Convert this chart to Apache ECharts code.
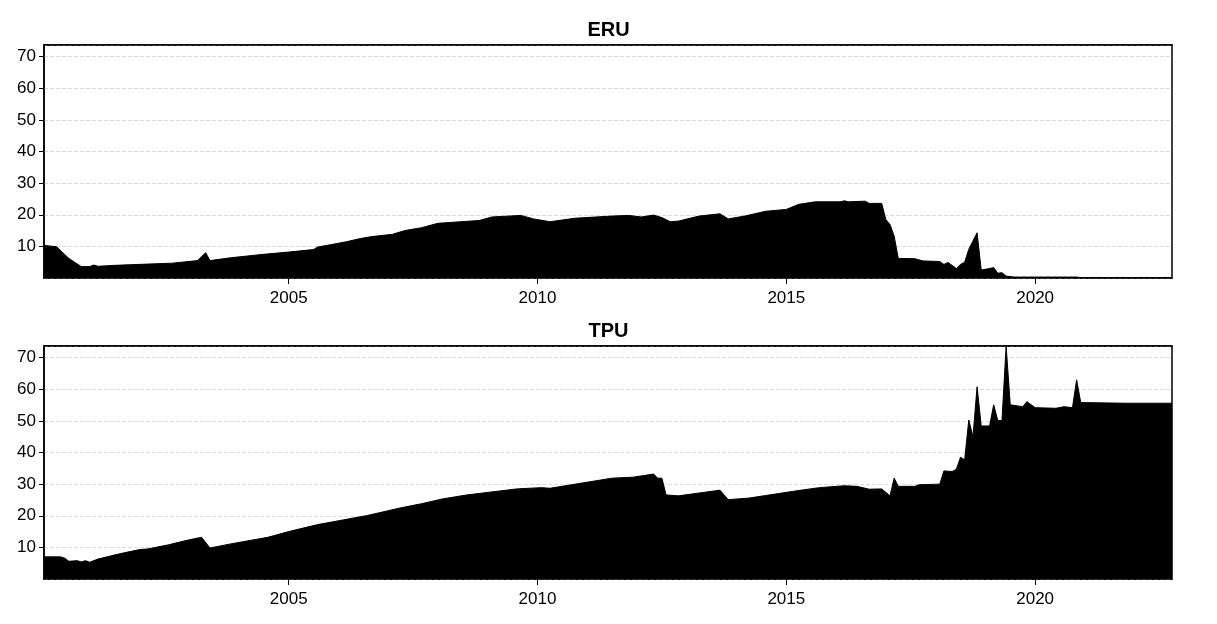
<!DOCTYPE html>
<html>
<head>
<meta charset="utf-8">
<script src="https://cdn.jsdelivr.net/npm/echarts@6/dist/echarts.min.js"></script>
<style>
  html, body {margin: 0; padding: 0; background: #fff;}
  #main {width: 1217px; height: 624px;}
</style>
</head>
<body>
<div id="main"></div>
<script>
// monthly readings, 'YYYY-MM'
var eruDates = ['2000-02','2000-05','2000-08','2000-11','2001-01','2001-02','2001-03','2001-07','2002-03','2002-09',
  '2003-03','2003-05','2003-06','2003-11','2004-07','2005-01','2005-07','2005-08','2005-11','2006-03',
  '2006-06','2006-09','2007-02','2007-05','2007-09','2008-01','2008-11','2009-02','2009-09','2009-12',
  '2010-04','2010-10','2011-07','2011-11','2012-02','2012-05','2012-07','2012-09','2012-11','2013-04',
  '2013-09','2013-11','2014-03','2014-08','2015-01','2015-04','2015-08','2016-02','2016-03','2016-04',
  '2016-08','2016-09','2016-12','2017-01','2017-02','2017-03','2017-04','2017-08','2017-10','2018-02',
  '2018-03','2018-04','2018-06','2018-07','2018-08','2018-09','2018-11','2018-12','2019-02','2019-03',
  '2019-04','2019-05','2019-06','2019-08','2020-11','2020-12','2022-10'];
var eruValues = [10.3, 9.9, 6.2, 3.6, 3.6, 4.1, 3.7, 4.0, 4.4, 4.7,
  5.5, 8.0, 5.5, 6.4, 7.5, 8.2, 9.0, 9.8, 10.5, 11.5,
  12.4, 13.1, 13.8, 15.0, 15.9, 17.3, 18.2, 19.3, 19.8, 18.7,
  17.8, 18.9, 19.6, 19.8, 19.3, 19.9, 19.1, 17.8, 18.0, 19.6,
  20.3, 18.7, 19.6, 21.1, 21.7, 23.3, 24.1, 24.1, 24.4, 24.1,
  24.3, 23.6, 23.6, 18.5, 16.9, 13.3, 6.2, 6.1, 5.4, 5.2,
  4.3, 4.9, 3.0, 4.3, 5.0, 9.1, 14.3, 2.5, 3.0, 3.3,
  1.5, 1.7, 0.6, 0.3, 0.3, 0.1, 0.1];

var tpuDates = ['2000-02','2000-06','2000-07','2000-08','2000-10','2000-11','2000-12','2001-01','2001-03','2001-08',
  '2002-01','2002-03','2002-08','2002-12','2003-04','2003-06','2003-11','2004-08','2005-01','2005-08',
  '2006-08','2007-04','2007-09','2008-02','2008-08','2009-08','2010-02','2010-04','2011-07','2011-12',
  '2012-05','2012-06','2012-07','2012-08','2012-11','2013-09','2013-11','2014-04','2014-08','2015-04',
  '2015-09','2016-03','2016-06','2016-09','2016-12','2017-02','2017-03','2017-04','2017-08','2017-09',
  '2018-02','2018-03','2018-05','2018-06','2018-07','2018-08','2018-09','2018-10','2018-11','2018-12',
  '2019-02','2019-03','2019-04','2019-05','2019-06','2019-07','2019-10','2019-11','2020-01','2020-06',
  '2020-08','2020-10','2020-11','2020-12','2021-11','2022-10'];
var tpuValues = [7.0, 7.0, 6.6, 5.6, 5.8, 5.4, 5.8, 5.3, 6.3, 7.9,
  9.3, 9.5, 10.8, 12.1, 13.2, 9.8, 11.1, 13.2, 15.0, 17.2,
  20.1, 22.5, 23.8, 25.3, 26.6, 28.5, 28.9, 28.7, 31.9, 32.2,
  33.2, 31.9, 31.9, 26.6, 26.3, 28.1, 25.1, 25.6, 26.4, 28.0,
  28.9, 29.5, 29.3, 28.4, 28.5, 26.3, 31.9, 29.3, 29.3, 29.8,
  30.0, 34.2, 34.0, 34.7, 38.5, 37.7, 50.3, 45.0, 60.8, 48.4,
  48.4, 55.1, 50.1, 50.1, 73.7, 55.1, 54.5, 56.1, 54.2, 54.0,
  54.5, 54.2, 63.0, 55.8, 55.6, 55.6];

var yearTicks = ['2005', '2010', '2015', '2020'];
var yTicks = [10, 20, 30, 40, 50, 60, 70];
var panelTitles = ['ERU', 'TPU'];

// one category per month, first to last reading
var months = [];
for (var yr = 2000; yr <= 2022; yr++) {
  for (var mo = 1; mo <= 12; mo++) {
    var key = yr + '-' + (mo < 10 ? '0' : '') + mo;
    if (key >= '2000-02' && key <= '2022-10') months.push(key);
  }
}
function isYearTick(index, value) {
  return String(value).slice(5) === '01' && yearTicks.indexOf(String(value).slice(0, 4)) >= 0;
}
function pairs(dates, vals) {
  return dates.map(function (d, i) { return [d, vals[i]]; });
}

var yMax = 73.7;
var font = 'Liberation Sans, Arial, sans-serif';
var seriesData = [pairs(eruDates, eruValues), pairs(tpuDates, tpuValues)];

function buildOption() {
  var grids = [], xAxes = [], yAxes = [], titles = [], series = [];
  for (var i = 0; i < 2; i++) {
    var gridTop = 45 + i * 301;
    grids.push({left: 44, right: 45, top: gridTop, height: 233, show: true,
      borderColor: '#000', borderWidth: 1.5});
    titles.push({text: panelTitles[i], left: 'center', top: gridTop - 25, padding: 0,
      textStyle: {fontFamily: font, fontSize: 20, fontWeight: 'bold', color: '#000'}});
    xAxes.push({type: 'category', gridIndex: i, data: months, boundaryGap: false,
      axisLine: {show: true, lineStyle: {color: '#000', width: 1.5}},
      axisTick: {show: true, length: 6, interval: isYearTick, lineStyle: {color: '#000'}},
      axisLabel: {color: '#000', fontFamily: font, fontSize: 17, margin: 12, interval: isYearTick,
        formatter: function (v) { return String(v).slice(0, 4); }},
      splitLine: {show: false}});
    // top edge of the frame, drawn over the split line at the axis max
    xAxes.push({type: 'value', gridIndex: i, position: 'top', min: 0, max: 1,
      axisLine: {show: true, lineStyle: {color: '#000', width: 1.5}},
      axisTick: {show: false}, axisLabel: {show: false}, splitLine: {show: false}});
    yAxes.push({type: 'value', gridIndex: i, min: 0, max: yMax, interval: 10,
      axisLine: {show: true, lineStyle: {color: '#000', width: 1.5}},
      axisTick: {show: true, length: 5, lineStyle: {color: '#000'}},
      axisLabel: {color: '#000', fontFamily: font, fontSize: 17, margin: 8,
        showMinLabel: false, showMaxLabel: false,
        formatter: function (v) { return yTicks.indexOf(v) >= 0 ? String(v) : ''; }},
      splitLine: {show: true, lineStyle: {color: '#d9d9d9', type: 'dashed', width: 1}}});
    series.push({type: 'line', xAxisIndex: i * 2, yAxisIndex: i, data: seriesData[i],
      symbol: 'none', smooth: false, z: 3,
      lineStyle: {color: '#000', width: 1},
      areaStyle: {color: '#000', opacity: 1, origin: 'start'}});
  }
  return {animation: false, backgroundColor: '#fff', title: titles,
    grid: grids, xAxis: xAxes, yAxis: yAxes, series: series};
}

var chart = echarts.init(document.getElementById('main'));
chart.setOption(buildOption());
</script>
</body>
</html>
